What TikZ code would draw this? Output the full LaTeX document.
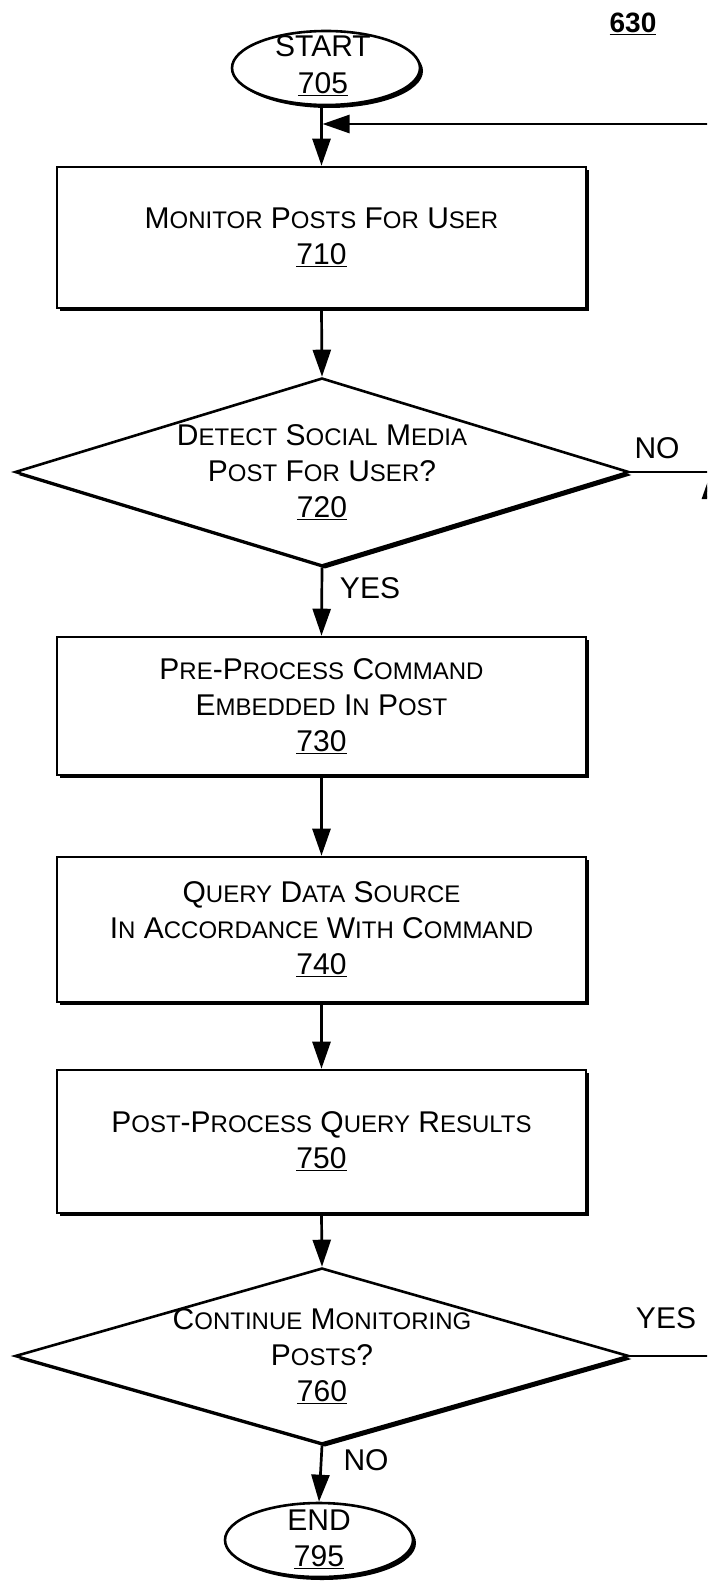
\documentclass[tikz,border=0pt]{standalone}
\usepackage{fontspec}
\setmainfont{Liberation Sans}
\usetikzlibrary{shapes.geometric,arrows.meta,shadows}
\newcommand{\sk}[1]{{\fontsize{24}{36}\selectfont #1}}
\begin{document}
\begin{tikzpicture}[x=1pt,y=-1pt,
  txt/.style={font=\fontsize{30}{36}\selectfont, align=center, inner sep=0pt},
  shad/.style={drop shadow={shadow xshift=3pt,shadow yshift=-3pt,opacity=1,fill=black}},
  procbox/.style={draw, line width=2.6pt, fill=white, shad, minimum width=529pt,
    inner sep=0pt, font=\fontsize{30}{36}\selectfont, align=center},
  decision/.style={draw, shape=diamond, line width=2.6pt, fill=white, shad,
    minimum width=614pt, inner sep=0pt},
  terminal/.style={draw, shape=ellipse, line width=2.6pt, fill=white, shad,
    minimum width=188pt, minimum height=74pt, inner sep=0pt},
  conn/.style={line width=2.7pt},
  flow/.style={conn, -{Triangle[length=27pt,width=18pt]}}
]
\useasboundingbox (0,0) rectangle (707,1581);
\clip (0,0) rectangle (707,1581);

% terminals
\node[terminal] (start) at (326,68) {};
\node[txt] (startT) at (323,46) {START};
\node[txt] (startN) at (323,84) {\underline{705}};
\node[txt, font=\bfseries\fontsize{28}{36}\selectfont] (fig) at (633,24) {\underline{630}};

% process boxes
\node[procbox, minimum height=141pt] (b710) at (321.5,237.5)
  {M\sk{ONITOR} P\sk{OSTS} F\sk{OR} U\sk{SER}\\\underline{710}};

\node[decision, minimum height=188pt] (d720) at (322,472) {};
\node[txt] (t720) at (322,472)
  {D\sk{ETECT} S\sk{OCIAL} M\sk{EDIA}\\P\sk{OST} F\sk{OR} U\sk{SER}?\\\underline{720}};

\node[procbox, minimum height=138pt] (b730) at (321.5,706)
  {P\sk{RE}-P\sk{ROCESS} C\sk{OMMAND}\\E\sk{MBEDDED} I\sk{N} P\sk{OST}\\\underline{730}};

\node[procbox, minimum height=145pt] (b740) at (321.5,929.5)
  {Q\sk{UERY} D\sk{ATA} S\sk{OURCE}\\I\sk{N} A\sk{CCORDANCE} W\sk{ITH} C\sk{OMMAND}\\\underline{740}};

\node[procbox, minimum height=143pt] (b750) at (321.5,1141.5)
  {P\sk{OST}-P\sk{ROCESS} Q\sk{UERY} R\sk{ESULTS}\\\underline{750}};

\node[decision, minimum height=176pt] (d760) at (322,1356) {};
\node[txt] (t760) at (322,1356)
  {C\sk{ONTINUE} M\sk{ONITORING}\\P\sk{OSTS}?\\\underline{760}};

\node[terminal] (endE) at (319,1540) {};
\node[txt] (endT) at (319,1520) {END};
\node[txt] (endN) at (319,1557) {\underline{795}};

% labels
\node[txt] (yes720) at (370,588) {YES};
\node[txt] (no720) at (657,448) {NO};
\node[txt] (yes760) at (666,1318) {YES};
\node[txt] (no760) at (366,1460) {NO};

% rail coordinates
\coordinate (railTop) at (711,124);
\coordinate (railMid) at (711,472);
\coordinate (railBot) at (711,1356);

% main flow
\draw[flow] (b710.north |- start.south) -- (b710.north);
\draw[flow] (b710.south) -- (d720.north);
\draw[flow] (d720.south) -- (b730.north);
\draw[flow] (b730.south) -- (b740.north);
\draw[flow] (b740.south) -- (b750.north);
\draw[flow] (b750.south) -- (d760.north);
\draw[flow] (d760.south) -- (endE.north);

% loop back
\draw[conn] (d760.east) -- (railBot);
\draw[flow] (railBot) -- (railMid);
\draw[conn] (d720.east) -- (railMid);
\draw[flow, shorten >=1pt] (railMid) -- (railTop) -- (b710.north |- railTop);
\end{tikzpicture}
\end{document}
